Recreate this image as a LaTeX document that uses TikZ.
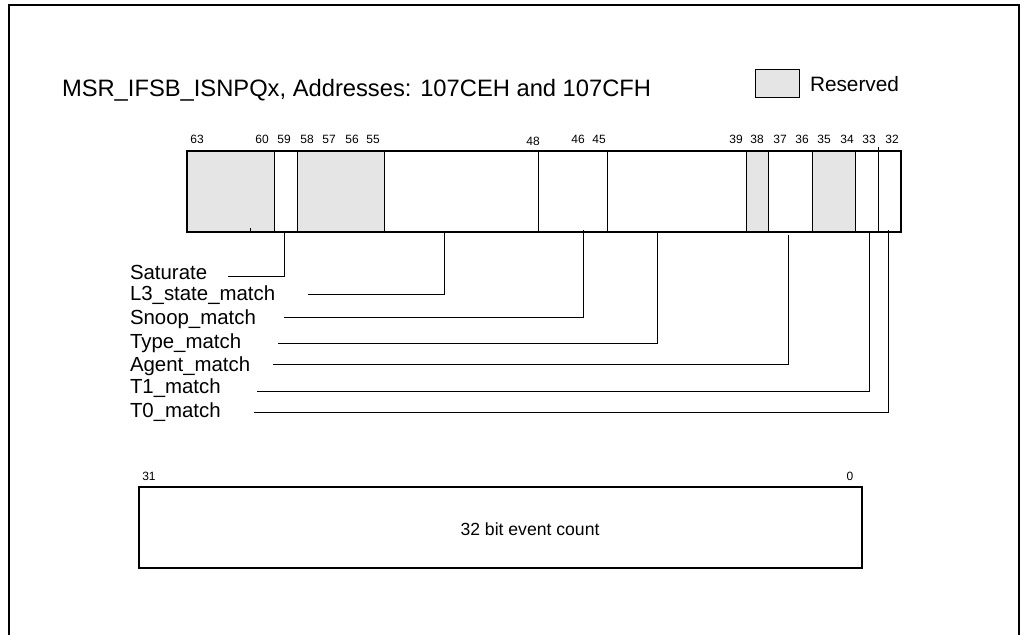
\documentclass[tikz,border=0pt]{standalone}
\usepackage{fontspec}
\setmainfont{Liberation Sans}
\usetikzlibrary{positioning}
\definecolor{resgray}{gray}{0.9}

\begin{document}
\begin{tikzpicture}[
  x=0.75pt, y=-0.75pt,
  every node/.style={inner sep=0pt, outer sep=0pt},
  heading/.style={anchor=base west, font=\fontsize{17.8}{20}\selectfont},
  legendtxt/.style={anchor=base west, font=\fontsize{15.6}{18}\selectfont},
  bitnum/.style={anchor=base, font=\fontsize{9}{11}\selectfont},
  fieldlbl/.style={anchor=base west, font=\fontsize{15.3}{18}\selectfont},
  counttxt/.style={font=\fontsize{13.2}{16}\selectfont},
  outer/.style={line width=1.5pt},
  regbox/.style={draw, line width=1.5pt},
  reserved/.style={fill=resgray},
  divider/.style={line width=0.75pt},
  link/.style={line width=0.75pt}
]
\useasboundingbox (0,0) rectangle (1021,635);

% Frame (open at the bottom)
\draw[outer] (9,635) -- (9,5) -- (1019,5) -- (1019,635);

% Title and legend
\node[heading] (title) at (62,97) {MSR\_IFSB\_ISNPQx, Addresses: 107CEH and 107CFH};
\draw[reserved, line width=0.75pt] (755,70) rectangle (799,98);
\node[legendtxt] (legend) at (810,92) {Reserved};

% Upper register, bits 63..32
\fill[reserved] (187,151) rectangle (274,232);
\fill[reserved] (297,151) rectangle (384,232);
\fill[reserved] (746,151) rectangle (768,232);
\fill[reserved] (812,151) rectangle (855,232);
\draw[divider] (274,151) -- (274,232);
\draw[divider] (297,151) -- (297,232);
\draw[divider] (384,151) -- (384,232);
\draw[divider] (538,151) -- (538,232);
\draw[divider] (607,151) -- (607,232);
\draw[divider] (746,151) -- (746,232);
\draw[divider] (768,151) -- (768,232);
\draw[divider] (812,151) -- (812,232);
\draw[divider] (855,151) -- (855,232);
\draw[divider] (878,147) -- (878,232);
\draw[divider] (250,228) -- (250,232);
\draw[regbox] (187,151) rectangle (901,232);

% Bit numbers
\node[bitnum] (n63) at (197,143) {63};
\node[bitnum] (n60) at (262,143) {60};
\node[bitnum] (n59) at (284,143) {59};
\node[bitnum] (n58) at (307,143) {58};
\node[bitnum] (n57) at (329,143) {57};
\node[bitnum] (n56) at (352,143) {56};
\node[bitnum] (n55) at (373,143) {55};
\node[bitnum] (n48) at (533,145) {48};
\node[bitnum] (n46) at (578,143) {46};
\node[bitnum] (n45) at (599,143) {45};
\node[bitnum] (n39) at (736,143) {39};
\node[bitnum] (n38) at (757,143) {38};
\node[bitnum] (n37) at (780,143) {37};
\node[bitnum] (n36) at (802,143) {36};
\node[bitnum] (n35) at (824,143) {35};
\node[bitnum] (n34) at (847,143) {34};
\node[bitnum] (n33) at (869,143) {33};
\node[bitnum] (n32) at (892,143) {32};

% Field names
\node[fieldlbl] (sat)   at (130,279) {Saturate};
\node[fieldlbl] (lthree) at (130,300) {L3\_state\_match};
\node[fieldlbl] (snoop) at (130,324) {Snoop\_match};
\node[fieldlbl] (type)  at (130,348) {Type\_match};
\node[fieldlbl] (agent) at (130,371) {Agent\_match};
\node[fieldlbl] (tone)  at (130,393) {T1\_match};
\node[fieldlbl] (tzero) at (130,417) {T0\_match};

% Connector ends
\coordinate (satB)   at (284,232);  \coordinate (satL)   at (228,276);
\coordinate (lthreeB) at (444,232); \coordinate (lthreeL) at (308,294);
\coordinate (snoopB) at (583,230);  \coordinate (snoopL) at (284,317);
\coordinate (typeB)  at (657,232);  \coordinate (typeL)  at (278,343);
\coordinate (agentB) at (788,235);  \coordinate (agentL) at (273,364);
\coordinate (toneB)  at (869,232);  \coordinate (toneL)  at (257,391);
\coordinate (tzeroB) at (888,230);  \coordinate (tzeroL) at (254,412);

% Connectors
\draw[link] (satB) |- (satL);
\draw[link] (lthreeB) |- (lthreeL);
\draw[link] (snoopB) |- (snoopL);
\draw[link] (typeB) |- (typeL);
\draw[link] (agentB) |- (agentL);
\draw[link] (toneB) |- (toneL);
\draw[link] (tzeroB) |- (tzeroL);

% Lower register, bits 31..0
\draw[regbox] (139,487) rectangle (862,568);
\node[bitnum] (n31) at (149,480) {31};
\node[bitnum] (n0)  at (850,480) {0};
\node[counttxt] (count) at (530,529) {32 bit event count};

\end{tikzpicture}
\end{document}
